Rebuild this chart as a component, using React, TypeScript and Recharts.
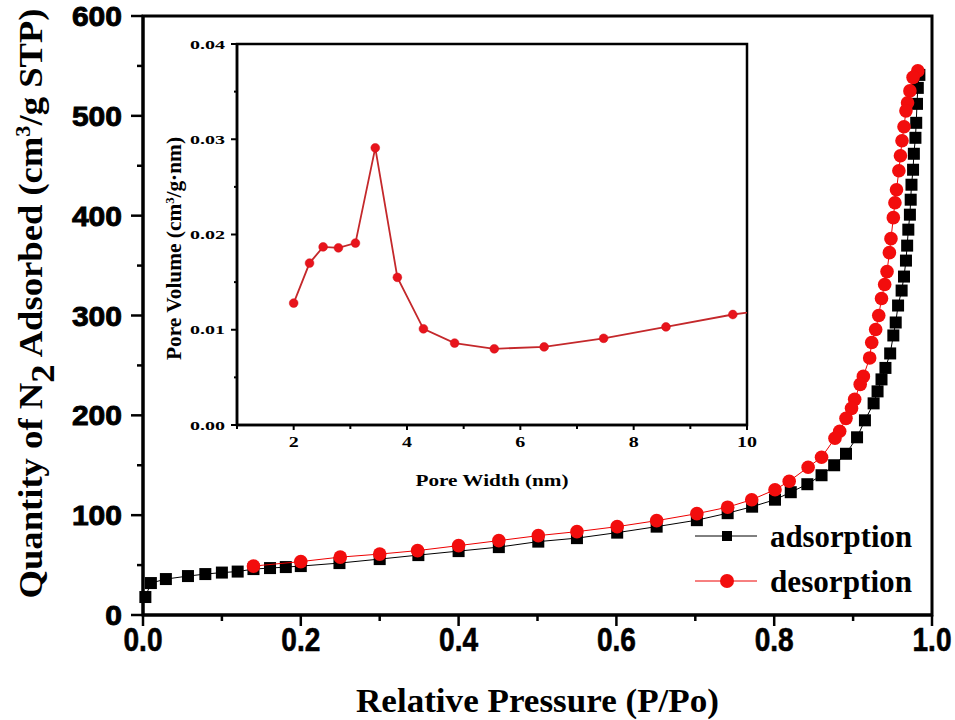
import React from "react";
import { ScatterChart, Scatter, LineChart, Line, XAxis, YAxis, ReferenceArea, Legend } from "recharts";

// N2 isotherm, adsorption branch (P/Po vs cm3/g STP)
const adsP = [0.003, 0.01, 0.029, 0.057, 0.079, 0.1, 0.12, 0.14, 0.161, 0.181, 0.2, 0.249, 0.3, 0.349, 0.4, 0.451, 0.501, 0.55, 0.601, 0.651, 0.702, 0.741, 0.772, 0.801, 0.821, 0.842, 0.86, 0.876, 0.891, 0.905, 0.915, 0.926, 0.931, 0.936, 0.941, 0.947, 0.951, 0.954, 0.957, 0.9615, 0.9645, 0.967, 0.9685, 0.97, 0.972, 0.973, 0.974, 0.976, 0.977, 0.979, 0.98, 0.981, 0.982, 0.984];
const adsQ = [18, 32, 36, 39, 41, 42.5, 43.5, 46, 47, 48, 49, 52, 56, 60, 64, 68, 73.5, 77, 82.5, 88.5, 95, 102, 108.5, 115.5, 123, 131, 140, 150, 161.5, 178, 195, 212, 224, 236, 247.5, 262, 280, 293, 310, 325, 339, 355, 370, 386, 401, 416, 431, 446, 462, 478, 493, 512, 528, 541];

// desorption branch, in measured order (high to low pressure)
const desP = [0.982, 0.976, 0.972, 0.969, 0.967, 0.9645, 0.962, 0.96, 0.958, 0.955, 0.953, 0.951, 0.948, 0.946, 0.943, 0.94, 0.936, 0.9325, 0.9286, 0.9236, 0.921, 0.913, 0.909, 0.902, 0.898, 0.891, 0.883, 0.877, 0.86, 0.843, 0.819, 0.801, 0.7715, 0.741, 0.702, 0.651, 0.601, 0.55, 0.501, 0.451, 0.4, 0.348, 0.3, 0.25, 0.2, 0.14];
const desQ = [545, 538.5, 525, 513, 505, 489, 475, 460, 445, 426, 413, 398, 377, 363, 344, 331, 317, 300, 286, 273, 257.5, 239, 231, 216, 207, 197, 184, 177, 158, 148, 134, 125.5, 115.5, 108, 101.5, 94.5, 88.5, 83.5, 79.5, 74.5, 69.5, 64.5, 61, 58, 53.5, 49];

// pore size distribution (inset)
const poreW = [2.0, 2.28, 2.52, 2.79, 3.09, 3.44, 3.83, 4.29, 4.84, 5.54, 6.42, 7.47, 8.57, 9.75, 11.1];
const poreV = [0.0128, 0.017, 0.0187, 0.0186, 0.0191, 0.0291, 0.0155, 0.0101, 0.0086, 0.008, 0.0082, 0.0091, 0.0103, 0.0116, 0.0127];

const isoXTicks = [0, 0.1, 0.2, 0.3, 0.4, 0.5, 0.6, 0.7, 0.8, 0.9, 1.0];
const isoXLabels = [0, 0.2, 0.4, 0.6, 0.8, 1.0];
const isoYTicks = [0, 50, 100, 150, 200, 250, 300, 350, 400, 450, 500, 550, 600];
const isoYLabels = [0, 100, 200, 300, 400, 500, 600];
const psdXTicks = [1, 2, 3, 4, 5, 6, 7, 8, 9, 10];
const psdXLabels = [2, 4, 6, 8, 10];
const psdYTicks = [0, 0.005, 0.01, 0.015, 0.02, 0.025, 0.03, 0.035, 0.04];
const psdYLabels = [0, 0.01, 0.02, 0.03, 0.04];

const ads = adsP.map((p, i) => ({ p, q: adsQ[i] }));
const des = desP.map((p, i) => ({ p, q: desQ[i] }));
const psd = poreW.map((w, i) => ({ w, v: poreV[i] }));

const SERIF = "'Liberation Serif', 'Times New Roman', serif";
const SANS = "'Liberation Sans', Arial, sans-serif";

// tick mark + label drawn at the axis point (tickSize/tickMargin are 0)
const axisTick = (o: any) => (props: any) => {
  const { x, y, payload } = props;
  const v = payload.value;
  const major = o.labels.includes(v);
  const len = major ? o.major : o.minor;
  const txt = o.fmt(v);
  const dots = txt.split(".").length - 1;
  const tl = (txt.length - dots) * o.charW + dots * o.charW * 0.5;
  const textProps = {
    fontFamily: o.font,
    fontWeight: "bold",
    fontSize: o.size,
    fill: "#000",
    stroke: o.stroke ? "#000" : "none",
    strokeWidth: o.stroke || 0,
    textLength: tl,
    lengthAdjust: "spacingAndGlyphs",
  };
  if (o.side === "bottom") {
    return (
      <g>
        <line x1={x} y1={y} x2={x} y2={y + len} stroke="#000" strokeWidth={o.sw} />
        {major && (
          <text x={x} y={y + o.off} textAnchor="middle" {...textProps}>
            {txt}
          </text>
        )}
      </g>
    );
  }
  return (
    <g>
      <line x1={x} y1={y} x2={x - len} y2={y} stroke="#000" strokeWidth={o.sw} />
      {major && (
        <text x={x - o.off} y={y + o.base} textAnchor="end" {...textProps}>
          {txt}
        </text>
      )}
    </g>
  );
};

const SquareMark = (props: any) => (
  <rect x={props.cx - 6} y={props.cy - 6} width={12} height={12} fill="#000" />
);
const CircleMark = (props: any) => <circle cx={props.cx} cy={props.cy} r={6.8} fill="#f20d0d" />;

const LegendBox = (props: any) => (
  <svg width={240} height={100}>
    {(props.payload || []).map((e: any, i: number) => {
      const cy = 26 + i * 45;
      const c = i === 0 ? "#000" : "#f20d0d";
      return (
        <g key={e.value}>
          <line x1={5} x2={67} y1={cy} y2={cy} stroke={i === 0 ? "#000" : "#e00"} strokeWidth={1} />
          {e.type === "square" ? (
            <rect x={32} y={cy - 5} width={10} height={10} fill={c} />
          ) : (
            <circle cx={37} cy={cy} r={7} fill={c} />
          )}
          <text x={80} y={cy + 11} fontFamily={SERIF} fontWeight="bold" fontSize={31} textLength={142} lengthAdjust="spacingAndGlyphs">
            {e.value}
          </text>
        </g>
      );
    })}
  </svg>
);

const IsoXTitle = (props: any) => {
  const vb = props.viewBox;
  return (
    <text x={vb.x + vb.width / 2} y={vb.y + 97} textAnchor="middle" fontFamily={SERIF} fontWeight="bold" fontSize={33} textLength={363} lengthAdjust="spacingAndGlyphs">
      Relative Pressure (P/Po)
    </text>
  );
};

const IsoYTitle = (props: any) => {
  const vb = props.viewBox;
  const x = vb.x - 21;
  const cy = vb.y + vb.height / 2 - 12;
  return (
    <text x={x} y={cy} transform={`rotate(-90 ${x} ${cy})`} textAnchor="middle" fontFamily={SERIF} fontWeight="bold" fontSize={33} textLength={590} lengthAdjust="spacingAndGlyphs">
      Quantity of N<tspan dy={12}>2</tspan>
      <tspan dy={-12}> Adsorbed (cm</tspan>
      <tspan dy={-12} fontSize={20}>3</tspan>
      <tspan dy={12}>/g STP)</tspan>
    </text>
  );
};

const PsdXTitle = (props: any) => {
  const vb = props.viewBox;
  return (
    <text x={vb.x + vb.width / 2} y={vb.y + 61} textAnchor="middle" fontFamily={SERIF} fontWeight="bold" fontSize={16} textLength={153} lengthAdjust="spacingAndGlyphs">
      Pore Width (nm)
    </text>
  );
};

const PsdYTitle = (props: any) => {
  const vb = props.viewBox;
  const x = vb.x + 4;
  const cy = vb.y + vb.height / 2 + 14;
  return (
    <text x={x} y={cy} transform={`rotate(-90 ${x} ${cy})`} textAnchor="middle" fontFamily={SERIF} fontWeight="bold" fontSize={22} textLength={223} lengthAdjust="spacingAndGlyphs">
      Pore Volume (cm<tspan dy={-7} fontSize={13}>3</tspan>
      <tspan dy={7}>/g·nm)</tspan>
    </text>
  );
};

export default function App() {
  return (
    <div style={{ position: "absolute", left: 0, top: 0, width: 955, height: 720, background: "#fff" }}>
      <ScatterChart width={955} height={720} margin={{ top: 16, right: 23, bottom: 65, left: 63 }}>
        <XAxis
          type="number"
          dataKey="p"
          domain={[0, 1]}
          ticks={isoXTicks}
          interval={0}
          height={40}
          tickSize={0}
          tickMargin={0}
          tickLine={false}
          axisLine={{ stroke: "#000", strokeWidth: 3 }}
          tick={axisTick({ side: "bottom", labels: isoXLabels, major: 11, minor: 6, off: 36, size: 33, font: SANS, charW: 15.6, sw: 2.5, stroke: 0.6, fmt: (v: number) => v.toFixed(1) })}
          label={IsoXTitle}
        />
        <YAxis
          type="number"
          dataKey="q"
          domain={[0, 600]}
          ticks={isoYTicks}
          interval={0}
          width={80}
          tickSize={0}
          tickMargin={0}
          tickLine={false}
          axisLine={{ stroke: "#000", strokeWidth: 3 }}
          tick={axisTick({ side: "left", labels: isoYLabels, major: 12, minor: 6, off: 21, base: 10, size: 28, font: SANS, charW: 16.7, sw: 2.5, stroke: 0.9, fmt: (v: number) => String(v) })}
          label={IsoYTitle}
        />
        <ReferenceArea x1={0} x2={1} y1={0} y2={600} fill="none" stroke="#000" strokeWidth={3} />
        <Scatter
          name="adsorption"
          data={ads}
          legendType="square"
          fill="#000"
          line={{ stroke: "#000", strokeWidth: 1 }}
          shape={SquareMark}
          isAnimationActive={false}
        />
        <Scatter
          name="desorption"
          data={des}
          legendType="circle"
          fill="#f20d0d"
          line={{ stroke: "#e00", strokeWidth: 1 }}
          shape={CircleMark}
          isAnimationActive={false}
        />
        <Legend
          layout="vertical"
          align="center"
          verticalAlign="middle"
          wrapperStyle={{ left: 690, top: 510, width: 240, height: 100 }}
          content={LegendBox}
        />
      </ScatterChart>

      {/* inset: pore size distribution */}
      <div style={{ position: "absolute", left: 130, top: 20 }}>
        <LineChart width={640} height={480} data={psd} margin={{ top: 24, right: 23, bottom: 45, left: 47 }}>
          <XAxis
            type="number"
            dataKey="w"
            domain={[1, 10]}
            allowDataOverflow
            ticks={psdXTicks}
            interval={0}
            height={30}
            tickSize={0}
            tickMargin={0}
            tickLine={false}
            axisLine={{ stroke: "#000", strokeWidth: 2.5 }}
            tick={axisTick({ side: "bottom", labels: psdXLabels, major: 5, minor: 4, off: 22, size: 14, font: SERIF, charW: 10, sw: 2, fmt: (v: number) => String(v) })}
            label={PsdXTitle}
          />
          <YAxis
            type="number"
            dataKey="v"
            domain={[0, 0.04]}
            allowDataOverflow
            ticks={psdYTicks}
            interval={0}
            width={60}
            tickSize={0}
            tickMargin={0}
            tickLine={false}
            axisLine={{ stroke: "#000", strokeWidth: 2.5 }}
            tick={axisTick({ side: "left", labels: psdYLabels, major: 6, minor: 3, off: 12, base: 4.5, size: 13, font: SERIF, charW: 10, sw: 2, fmt: (v: number) => v.toFixed(2) })}
            label={PsdYTitle}
          />
          <ReferenceArea x1={1} x2={10} y1={0} y2={0.04} fill="none" stroke="#000" strokeWidth={2.5} />
          <Line
            type="linear"
            dataKey="v"
            stroke="#c4282b"
            strokeWidth={1.8}
            dot={{ r: 4.4, fill: "#e8141c", stroke: "#d01018", strokeWidth: 0.5 }}
            isAnimationActive={false}
          />
        </LineChart>
      </div>
    </div>
  );
}
